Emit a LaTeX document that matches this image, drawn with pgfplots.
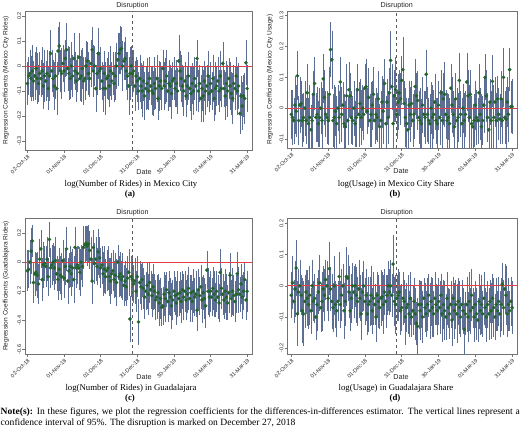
\documentclass[border=0pt]{standalone}
\usepackage{fontspec}
\setmainfont{Liberation Serif}
\setsansfont{Liberation Sans}
\usepackage{pgfplots}
\usepackage{pgfplotstable}
\pgfplotsset{compat=1.18}
\definecolor{barc}{RGB}{92,110,148}
\definecolor{dotc}{RGB}{34,100,44}
\definecolor{redl}{RGB}{228,62,72}
\definecolor{dashc}{RGB}{90,90,90}
\newcommand{\tickfont}{\sffamily\fontsize{5.5}{6}\selectfont}
\newcommand{\labfont}{\sffamily\fontsize{7.2}{8}\selectfont}
\newcommand{\ylfont}{\sffamily\fontsize{6.6}{7}\selectfont}
\newcommand{\capfont}{\fontsize{8.8}{10}\selectfont}
\newcommand{\notefont}{\fontsize{9.6}{11}\selectfont}

\pgfplotstableread[row sep=\\]{
y e\\
-0.07 0.08\\ -0.04 0.07\\ -0.03 0.09\\ -0.05 0.085\\ -0.02 0.10\\ -0.06 0.075\\ -0.04 0.09\\ -0.01 0.08\\ -0.05 0.095\\ -0.07 0.07\\
-0.03 0.08\\ -0.05 0.07\\ -0.02 0.09\\ -0.08 0.085\\ -0.04 0.10\\ -0.06 0.075\\ -0.03 0.09\\ -0.09 0.08\\ -0.04 0.095\\ 0.05 0.09\\
-0.02 0.08\\ -0.05 0.07\\ -0.08 0.09\\ -0.04 0.085\\ -0.09 0.10\\ 0.06 0.09\\ 0.08 0.09\\ -0.02 0.08\\ -0.03 0.095\\ 0.01 0.07\\
-0.02 0.08\\ 0.03 0.07\\ 0.065 0.10\\ -0.01 0.085\\ -0.03 0.10\\ -0.05 0.075\\ 0.00 0.09\\ -0.04 0.08\\ 0.03 0.095\\ -0.02 0.07\\
-0.06 0.08\\ -0.03 0.07\\ 0.035 0.09\\ -0.05 0.085\\ -0.04 0.10\\ -0.01 0.075\\ -0.06 0.09\\ -0.05 0.08\\ 0.00 0.095\\ 0.02 0.07\\
-0.03 0.08\\ -0.05 0.07\\ 0.01 0.09\\ 0.065 0.085\\ -0.02 0.10\\ 0.00 0.075\\ -0.09 0.09\\ -0.03 0.08\\ 0.05 0.095\\ -0.02 0.07\\
-0.01 0.08\\ -0.06 0.07\\ -0.09 0.09\\ -0.03 0.085\\ -0.09 0.10\\ -0.05 0.075\\ -0.04 0.09\\ -0.08 0.08\\ -0.02 0.095\\ -0.06 0.07\\
-0.03 0.08\\ -0.07 0.07\\ -0.04 0.09\\ 0.00 0.085\\ 0.025 0.10\\ 0.05 0.075\\ 0.065 0.09\\ 0.07 0.08\\ 0.00 0.095\\ 0.02 0.07\\
0.03 0.08\\ -0.02 0.07\\ -0.04 0.09\\ -0.08 0.11\\ -0.03 0.10\\ 0.00 0.075\\ -0.03 0.09\\ -0.02 0.08\\ -0.08 0.095\\ -0.04 0.07\\
-0.06 0.08\\ -0.10 0.07\\ -0.05 0.09\\ -0.08 0.085\\ -0.10 0.10\\ -0.06 0.075\\ -0.12 0.09\\ -0.09 0.08\\ -0.07 0.095\\ -0.10 0.07\\
-0.05 0.08\\ -0.08 0.07\\ -0.10 0.09\\ -0.11 0.085\\ -0.07 0.10\\ -0.09 0.075\\ -0.05 0.09\\ -0.13 0.08\\ -0.08 0.095\\ -0.06 0.07\\
-0.09 0.08\\ -0.01 0.07\\ -0.08 0.09\\ -0.06 0.085\\ -0.04 0.10\\ -0.10 0.075\\ -0.07 0.09\\ -0.08 0.08\\ -0.11 0.095\\ -0.06 0.07\\
-0.05 0.08\\ -0.09 0.07\\ -0.07 0.09\\ -0.10 0.085\\ 0.02 0.10\\ -0.02 0.075\\ -0.05 0.09\\ -0.08 0.08\\ -0.10 0.095\\ -0.06 0.07\\
-0.12 0.08\\ -0.08 0.07\\ -0.04 0.09\\ -0.09 0.085\\ -0.11 0.10\\ -0.07 0.075\\ -0.10 0.09\\ -0.05 0.08\\ -0.08 0.095\\ 0.03 0.07\\
-0.10 0.08\\ -0.07 0.07\\ -0.13 0.09\\ -0.09 0.085\\ -0.12 0.10\\ -0.06 0.075\\ -0.10 0.09\\ -0.08 0.08\\ -0.04 0.095\\ -0.11 0.07\\
-0.07 0.08\\ -0.10 0.07\\ -0.05 0.09\\ -0.13 0.085\\ -0.09 0.10\\ -0.08 0.075\\ -0.06 0.09\\ -0.10 0.08\\ -0.04 0.095\\ -0.09 0.07\\
0.01 0.08\\ -0.09 0.07\\ -0.12 0.09\\ -0.07 0.085\\ -0.10 0.10\\ -0.05 0.075\\ -0.08 0.09\\ -0.11 0.08\\ -0.13 0.095\\ -0.07 0.07\\
-0.09 0.08\\ -0.04 0.07\\ -0.10 0.09\\ -0.08 0.085\\ -0.19 0.075\\ -0.12 0.075\\ -0.16 0.09\\ -0.12 0.08\\ -0.13 0.095\\ 0.013 0.085\\ -0.09 0.09\\
}\tablea

\pgfplotstableread[row sep=\\]{
y e\\
-0.02 0.075\\ -0.03 0.085\\ -0.04 0.07\\ 0.01 0.09\\ -0.01 0.08\\ 0.105 0.075\\ -0.04 0.075\\ 0.01 0.085\\ 0.015 0.07\\ -0.04 0.08\\
-0.03 0.075\\ 0.00 0.085\\ -0.04 0.07\\ 0.05 0.09\\ -0.05 0.08\\ -0.03 0.10\\ -0.07 0.075\\ -0.04 0.085\\ 0.045 0.07\\ 0.08 0.08\\
-0.03 0.075\\ -0.02 0.085\\ -0.05 0.07\\ -0.03 0.09\\ 0.00 0.08\\ -0.04 0.10\\ 0.095 0.075\\ 0.035 0.085\\ -0.02 0.07\\ -0.03 0.08\\
-0.04 0.075\\ 0.045 0.085\\ 0.19 0.085\\ 0.157 0.09\\ -0.04 0.08\\ -0.03 0.10\\ -0.01 0.075\\ -0.05 0.085\\ 0.00 0.07\\ -0.03 0.08\\
0.085 0.075\\ -0.02 0.085\\ 0.01 0.07\\ -0.05 0.09\\ -0.06 0.08\\ 0.04 0.10\\ -0.04 0.075\\ 0.06 0.085\\ 0.04 0.07\\ -0.03 0.08\\
-0.04 0.075\\ 0.00 0.085\\ -0.05 0.07\\ -0.03 0.09\\ 0.06 0.08\\ -0.02 0.10\\ 0.015 0.075\\ -0.03 0.085\\ 0.00 0.07\\ -0.02 0.08\\
0.065 0.075\\ 0.07 0.085\\ -0.01 0.07\\ 0.035 0.09\\ -0.04 0.08\\ -0.02 0.10\\ 0.01 0.075\\ 0.045 0.085\\ -0.04 0.07\\ -0.02 0.08\\
-0.03 0.075\\ 0.03 0.085\\ -0.06 0.07\\ -0.04 0.09\\ 0.02 0.08\\ -0.01 0.10\\ 0.08 0.075\\ -0.05 0.085\\ 0.02 0.07\\ -0.03 0.08\\
0.05 0.075\\ 0.155 0.09\\ 0.07 0.07\\ -0.05 0.09\\ 0.04 0.08\\ 0.06 0.10\\ -0.02 0.075\\ 0.02 0.085\\ 0.05 0.07\\ 0.03 0.08\\
0.09 0.075\\ 0.125 0.10\\ 0.015 0.07\\ -0.03 0.09\\ -0.05 0.08\\ -0.07 0.10\\ 0.01 0.075\\ -0.02 0.085\\ 0.015 0.07\\ -0.04 0.08\\
-0.02 0.075\\ 0.07 0.085\\ 0.04 0.07\\ 0.025 0.09\\ -0.03 0.08\\ -0.04 0.10\\ -0.05 0.075\\ 0.01 0.085\\ -0.02 0.07\\ -0.03 0.08\\
0.11 0.075\\ -0.02 0.085\\ -0.04 0.07\\ -0.05 0.09\\ 0.00 0.08\\ -0.03 0.10\\ -0.02 0.075\\ 0.02 0.085\\ -0.04 0.07\\ -0.05 0.08\\
0.01 0.075\\ -0.03 0.085\\ 0.05 0.07\\ -0.04 0.09\\ 0.03 0.08\\ 0.045 0.10\\ -0.02 0.075\\ -0.04 0.085\\ -0.03 0.07\\ -0.05 0.08\\
0.065 0.075\\ 0.01 0.085\\ -0.02 0.07\\ -0.06 0.09\\ 0.03 0.08\\ -0.04 0.10\\ -0.03 0.075\\ 0.09 0.085\\ -0.02 0.07\\ -0.05 0.08\\
0.00 0.075\\ -0.04 0.085\\ -0.02 0.07\\ 0.085 0.09\\ 0.04 0.08\\ -0.03 0.10\\ 0.045 0.075\\ -0.05 0.085\\ -0.06 0.07\\ -0.04 0.08\\
0.01 0.075\\ -0.03 0.085\\ -0.04 0.07\\ 0.05 0.09\\ -0.02 0.08\\ -0.06 0.10\\ -0.04 0.075\\ 0.01 0.085\\ 0.10 0.07\\ 0.04 0.08\\
-0.03 0.075\\ -0.07 0.085\\ 0.02 0.07\\ -0.04 0.09\\ 0.087 0.08\\ -0.03 0.10\\ 0.02 0.075\\ -0.04 0.085\\ 0.03 0.07\\ -0.02 0.08\\
-0.035 0.075\\ 0.03 0.085\\ -0.04 0.07\\ 0.10 0.09\\ -0.03 0.08\\ -0.035 0.10\\ 0.02 0.075\\ -0.02 0.085\\ 0.125 0.065\\ 0.005 0.08\\ 0.005 0.085\\
}\tableb

\pgfplotstableread[row sep=\\]{
y e\\
-0.06 0.13\\ -0.05 0.12\\ 0.00 0.14\\ 0.075 0.15\\ 0.145 0.10\\ -0.14 0.13\\ -0.08 0.14\\ -0.07 0.12\\ -0.09 0.15\\ -0.15 0.13\\
0.02 0.13\\ 0.09 0.12\\ -0.12 0.14\\ -0.02 0.15\\ -0.01 0.11\\ -0.03 0.13\\ 0.02 0.14\\ -0.10 0.12\\ 0.155 0.11\\ -0.04 0.13\\
-0.02 0.13\\ 0.00 0.12\\ -0.04 0.14\\ 0.01 0.15\\ -0.08 0.11\\ -0.12 0.13\\ -0.05 0.14\\ -0.09 0.12\\ -0.10 0.15\\ 0.01 0.13\\
-0.11 0.13\\ -0.03 0.12\\ 0.09 0.14\\ -0.13 0.15\\ -0.06 0.11\\ -0.03 0.13\\ -0.08 0.14\\ -0.04 0.12\\ -0.12 0.15\\ 0.10 0.13\\
-0.04 0.13\\ -0.02 0.12\\ -0.04 0.14\\ -0.07 0.15\\ 0.00 0.11\\ -0.03 0.13\\ 0.10 0.14\\ 0.12 0.12\\ 0.13 0.11\\ 0.11 0.13\\
0.125 0.12\\ 0.08 0.12\\ 0.02 0.14\\ -0.13 0.15\\ 0.10 0.11\\ -0.01 0.13\\ 0.02 0.14\\ -0.03 0.12\\ 0.07 0.15\\ 0.03 0.13\\
-0.04 0.13\\ -0.02 0.12\\ -0.08 0.14\\ -0.05 0.15\\ -0.10 0.11\\ -0.06 0.13\\ -0.04 0.14\\ -0.10 0.12\\ -0.13 0.15\\ -0.08 0.13\\
-0.06 0.13\\ -0.12 0.12\\ -0.09 0.14\\ -0.14 0.15\\ 0.00 0.11\\ -0.10 0.13\\ -0.08 0.14\\ -0.12 0.12\\ -0.10 0.15\\ -0.16 0.13\\
-0.13 0.13\\ -0.17 0.12\\ -0.11 0.14\\ -0.07 0.15\\ -0.39 0.15\\ -0.10 0.13\\ -0.12 0.14\\ -0.15 0.12\\ -0.13 0.15\\ -0.20 0.13\\
-0.10 0.13\\ -0.41 0.15\\ -0.14 0.14\\ -0.17 0.15\\ -0.12 0.11\\ -0.18 0.13\\ -0.24 0.14\\ -0.20 0.12\\ -0.16 0.15\\ -0.22 0.13\\
-0.14 0.13\\ -0.19 0.12\\ -0.23 0.14\\ -0.17 0.15\\ -0.20 0.11\\ -0.26 0.13\\ -0.24 0.14\\ -0.21 0.12\\ -0.28 0.15\\ -0.25 0.13\\
-0.31 0.12\\ -0.30 0.12\\ -0.22 0.14\\ -0.25 0.15\\ -0.19 0.11\\ -0.27 0.13\\ -0.21 0.14\\ -0.24 0.12\\ -0.30 0.15\\ -0.26 0.13\\
-0.20 0.13\\ -0.23 0.12\\ -0.28 0.14\\ -0.22 0.15\\ -0.25 0.11\\ -0.21 0.13\\ -0.27 0.14\\ -0.19 0.12\\ -0.24 0.15\\ -0.20 0.13\\
-0.26 0.13\\ -0.22 0.12\\ -0.18 0.14\\ -0.25 0.15\\ -0.21 0.11\\ -0.27 0.13\\ -0.20 0.14\\ -0.24 0.12\\ -0.22 0.15\\ -0.33 0.13\\
-0.19 0.13\\ -0.23 0.12\\ -0.17 0.14\\ -0.26 0.15\\ -0.21 0.11\\ -0.25 0.13\\ -0.30 0.14\\ -0.055 0.12\\ -0.20 0.15\\ -0.24 0.13\\
-0.20 0.13\\ -0.24 0.12\\ -0.18 0.14\\ -0.22 0.15\\ -0.26 0.11\\ -0.20 0.13\\ -0.24 0.14\\ -0.28 0.12\\ -0.07 0.15\\ -0.18 0.13\\
-0.22 0.13\\ -0.26 0.12\\ -0.20 0.14\\ -0.24 0.15\\ -0.28 0.11\\ -0.21 0.13\\ -0.09 0.14\\ -0.25 0.12\\ -0.20 0.15\\ -0.23 0.13\\
-0.27 0.13\\ -0.22 0.12\\ -0.08 0.14\\ -0.19 0.15\\ -0.22 0.11\\ -0.15 0.13\\ -0.24 0.14\\ -0.20 0.12\\ -0.12 0.11\\ -0.26 0.13\\ -0.20 0.13\\
}\tablec

\pgfplotstableread[row sep=\\]{
y e\\
-0.03 0.07\\ 0.01 0.08\\ -0.05 0.065\\ -0.01 0.085\\ 0.057 0.085\\ -0.09 0.10\\ -0.02 0.07\\ 0.00 0.08\\ -0.03 0.06\\ -0.08 0.10\\
-0.09 0.10\\ -0.05 0.08\\ -0.02 0.065\\ -0.04 0.085\\ -0.06 0.075\\ -0.03 0.09\\ -0.08 0.07\\ 0.00 0.08\\ -0.05 0.06\\ -0.04 0.075\\
-0.10 0.07\\ -0.06 0.08\\ -0.02 0.065\\ 0.01 0.085\\ -0.07 0.075\\ -0.05 0.09\\ -0.01 0.07\\ -0.03 0.08\\ 0.02 0.06\\ 0.00 0.075\\
-0.04 0.07\\ 0.055 0.08\\ -0.01 0.065\\ -0.05 0.085\\ -0.07 0.075\\ 0.00 0.09\\ -0.06 0.07\\ -0.08 0.08\\ -0.05 0.06\\ 0.03 0.075\\
-0.06 0.07\\ -0.03 0.08\\ 0.00 0.065\\ -0.08 0.085\\ -0.05 0.075\\ 0.03 0.09\\ 0.025 0.07\\ -0.02 0.08\\ -0.08 0.06\\ -0.04 0.075\\
0.00 0.07\\ -0.02 0.08\\ 0.00 0.065\\ -0.03 0.085\\ -0.05 0.075\\ -0.01 0.09\\ -0.04 0.07\\ -0.09 0.08\\ -0.02 0.06\\ 0.00 0.075\\
-0.05 0.07\\ -0.03 0.08\\ -0.09 0.065\\ -0.06 0.085\\ -0.05 0.075\\ -0.03 0.09\\ -0.08 0.07\\ -0.04 0.08\\ -0.06 0.06\\ -0.10 0.075\\
-0.03 0.07\\ -0.05 0.08\\ -0.07 0.065\\ -0.04 0.085\\ -0.035 0.075\\ -0.06 0.09\\ -0.02 0.07\\ -0.05 0.08\\ -0.03 0.06\\ 0.00 0.075\\
-0.02 0.07\\ 0.00 0.08\\ -0.03 0.065\\ 0.07 0.09\\ -0.05 0.075\\ -0.06 0.09\\ -0.04 0.07\\ -0.03 0.08\\ -0.02 0.06\\ -0.08 0.075\\
-0.07 0.07\\ -0.04 0.08\\ -0.05 0.065\\ -0.10 0.085\\ -0.07 0.075\\ -0.06 0.09\\ -0.09 0.07\\ -0.04 0.08\\ -0.10 0.06\\ -0.08 0.075\\
-0.05 0.07\\ -0.09 0.08\\ -0.12 0.065\\ -0.13 0.085\\ -0.06 0.075\\ -0.08 0.09\\ -0.06 0.07\\ -0.10 0.08\\ -0.04 0.06\\ -0.07 0.075\\
-0.09 0.07\\ -0.06 0.08\\ -0.03 0.065\\ -0.08 0.085\\ -0.05 0.075\\ -0.07 0.09\\ -0.09 0.07\\ -0.04 0.08\\ -0.06 0.06\\ -0.08 0.075\\
-0.05 0.07\\ -0.07 0.08\\ -0.03 0.065\\ -0.09 0.085\\ -0.06 0.075\\ -0.08 0.09\\ -0.10 0.07\\ -0.04 0.08\\ -0.07 0.06\\ -0.09 0.075\\
-0.06 0.07\\ -0.11 0.08\\ -0.04 0.065\\ -0.08 0.085\\ -0.06 0.075\\ -0.09 0.09\\ -0.05 0.07\\ -0.07 0.08\\ -0.10 0.06\\ -0.06 0.075\\
-0.08 0.07\\ -0.14 0.08\\ -0.09 0.065\\ -0.06 0.085\\ -0.10 0.075\\ -0.05 0.09\\ -0.08 0.07\\ -0.03 0.08\\ -0.07 0.06\\ -0.10 0.075\\
-0.06 0.07\\ -0.09 0.08\\ -0.11 0.065\\ -0.05 0.085\\ -0.08 0.075\\ -0.06 0.09\\ -0.09 0.07\\ -0.04 0.08\\ -0.07 0.06\\ -0.10 0.075\\
-0.06 0.07\\ -0.09 0.08\\ -0.05 0.065\\ -0.08 0.085\\ -0.04 0.075\\ -0.07 0.09\\ -0.10 0.07\\ -0.06 0.08\\ -0.08 0.06\\ -0.05 0.075\\
-0.09 0.07\\ -0.06 0.08\\ 0.005 0.065\\ -0.07 0.085\\ -0.01 0.075\\ -0.03 0.09\\ -0.09 0.07\\ -0.06 0.08\\ -0.08 0.06\\ -0.05 0.075\\ -0.07 0.08\\
}\tabled

\pgfplotsset{
  panel/.style={
    scale only axis, clip mode=individual,
    axis line style={draw=black!55, line width=0.9pt},
    tick align=outside, tick pos=left,
    major tick length=2.5bp,
    tick style={draw=black!55, line width=0.5pt},
    xtick={0,30,60,90,120,150,180},
    xticklabels={02-Oct-18,01-Nov-18,01-Dec-18,31-Dec-18,30-Jan-19,01-Mar-19,31-Mar-19},
    x tick label style={font=\tickfont, rotate=45, anchor=north east, inner sep=1pt, text=black!85},
    y tick label style={font=\tickfont, rotate=90, anchor=south, inner sep=1pt, text=black!85},
    ylabel style={font=\ylfont, anchor=center, text=black!85},
  },
  bars/.style={draw=none, mark=none,
    error bars/.cd, y dir=both, y explicit,
    error bar style={draw=barc, line width=0.4pt, solid},
    error mark options={draw=barc, line width=0.4pt, mark size=1.4pt}},
  dots/.style={only marks, mark=*, mark size=1.8pt,
    mark options={draw=dotc, fill=dotc, line width=0.1pt}},
  zline/.style={draw=redl, line width=0.8pt, mark=none},
  vline/.style={draw=dashc, line width=0.9pt, dash pattern=on 3.5bp off 2.5bp, mark=none},
}

\begin{document}
\begin{tikzpicture}
\useasboundingbox (0bp,0bp) rectangle (520bp,-431bp);

% ---------- (a)
\begin{axis}[panel, at={(25bp,-150bp)}, anchor=south west,
  width=227bp, height=139bp, xmin=-2, xmax=184, ymin=-0.336, ymax=0.22,
  ytick={-0.3,-0.2,-0.1,0,0.1,0.2}, yticklabels={-0.3,-0.2,-0.1,0,0.1,0.2},
  ylabel={Regression Coefficients (Mexico City Rides)},
  ylabel style={at={(axis description cs:-0.084,0.5)}}]
\addplot[bars] table[x expr=\coordindex, y=y, y error=e]{\tablea};
\addplot[zline] coordinates {(-2,0) (184,0)};
\addplot[vline] coordinates {(86,-0.336) (86,0.22)};
\addplot[dots] table[x expr=\coordindex, y=y]{\tablea};
\node[font=\labfont, text=black!85, anchor=base, inner sep=0pt] at (axis cs:86,0.22) [yshift=3.5bp] {Disruption};
\end{axis}

% ---------- (b)
\begin{axis}[panel, at={(287bp,-148bp)}, anchor=south west,
  width=230bp, height=137bp, xmin=-3.5, xmax=184, ymin=-0.129, ymax=0.315,
  ytick={-0.1,0,0.1,0.2,0.3}, yticklabels={-0.1,0,0.1,0.2,0.3},
  ylabel={Regression Coefficients (Mexico City Usage)},
  ylabel style={at={(axis description cs:-0.074,0.5)}}]
\addplot[bars] table[x expr=\coordindex, y=y, y error=e]{\tableb};
\addplot[zline] coordinates {(-3.5,0) (184,0)};
\addplot[vline] coordinates {(86,-0.129) (86,0.315)};
\addplot[dots] table[x expr=\coordindex, y=y]{\tableb};
\node[font=\labfont, text=black!85, anchor=base, inner sep=0pt] at (axis cs:86,0.315) [yshift=3.5bp] {Disruption};
\end{axis}

% ---------- (c)
\begin{axis}[panel, at={(25bp,-354bp)}, anchor=south west,
  width=227bp, height=136bp, xmin=-2, xmax=184, ymin=-0.63, ymax=0.302,
  ytick={-0.6,-0.4,-0.2,0,0.2}, yticklabels={-0.6,-0.4,-0.2,0,0.2},
  ylabel={Regression Coefficients (Guadalajara Rides)},
  ylabel style={at={(axis description cs:-0.084,0.5)}}]
\addplot[bars] table[x expr=\coordindex, y=y, y error=e]{\tablec};
\addplot[zline] coordinates {(-2,0) (184,0)};
\addplot[vline] coordinates {(86,-0.63) (86,0.302)};
\addplot[dots] table[x expr=\coordindex, y=y]{\tablec};
\node[font=\labfont, text=black!85, anchor=base, inner sep=0pt] at (axis cs:86,0.302) [yshift=3.5bp] {Disruption};
\end{axis}

% ---------- (d)
\begin{axis}[panel, at={(287bp,-354bp)}, anchor=south west,
  width=230bp, height=136bp, xmin=-3.5, xmax=184, ymin=-0.219, ymax=0.218,
  ytick={-0.2,-0.1,0,0.1,0.2}, yticklabels={-0.2,-0.1,0,0.1,0.2}]
\addplot[bars] table[x expr=\coordindex, y=y, y error=e]{\tabled};
\addplot[zline] coordinates {(-3.5,0) (184,0)};
\addplot[vline] coordinates {(86,-0.219) (86,0.218)};
\addplot[dots] table[x expr=\coordindex, y=y]{\tabled};
\node[font=\labfont, text=black!85, anchor=base, inner sep=0pt] at (axis cs:86,0.218) [yshift=3.5bp] {Disruption};
\end{axis}

% ---------- axis titles and captions
\node[font=\labfont, text=black!85, anchor=base, inner sep=0pt] at (144bp,-174.5bp) {Date};
\node[font=\labfont, text=black!85, anchor=base, inner sep=0pt] at (401bp,-173.5bp) {Date};
\node[font=\labfont, text=black!85, anchor=base, inner sep=0pt] at (144bp,-379.5bp) {Date};
\node[font=\labfont, text=black!85, anchor=base, inner sep=0pt] at (401bp,-379.5bp) {Date};

\node[font=\capfont, anchor=base, inner sep=0pt] at (131bp,-186bp) {log(Number of Rides) in Mexico City};
\node[font=\capfont\bfseries, anchor=base, inner sep=0pt] at (130bp,-196bp) {(a)};
\node[font=\capfont, anchor=base, inner sep=0pt] at (396bp,-186bp) {log(Usage) in Mexico City Share};
\node[font=\capfont\bfseries, anchor=base, inner sep=0pt] at (395bp,-196bp) {(b)};
\node[font=\capfont, anchor=base, inner sep=0pt] at (131bp,-390bp) {log(Number of Rides) in Guadalajara};
\node[font=\capfont\bfseries, anchor=base, inner sep=0pt] at (130bp,-400bp) {(c)};
\node[font=\capfont, anchor=base, inner sep=0pt] at (396bp,-390bp) {log(Usage) in Guadalajara Share};
\node[font=\capfont\bfseries, anchor=base, inner sep=0pt] at (395bp,-400bp) {(d)};

\node[font=\notefont, anchor=base west, inner sep=0pt] at (0.5bp,-414.5bp)
  {\hbox to 519bp{\textbf{Note(s):} In these figures, we plot the regression coefficients for the differences-in-differences estimator. The vertical lines represent a}};
\node[font=\notefont, anchor=base west, inner sep=0pt] at (0.5bp,-425.5bp)
  {confidence interval of 95\%. The disruption is marked on December 27, 2018};
\end{tikzpicture}
\end{document}
